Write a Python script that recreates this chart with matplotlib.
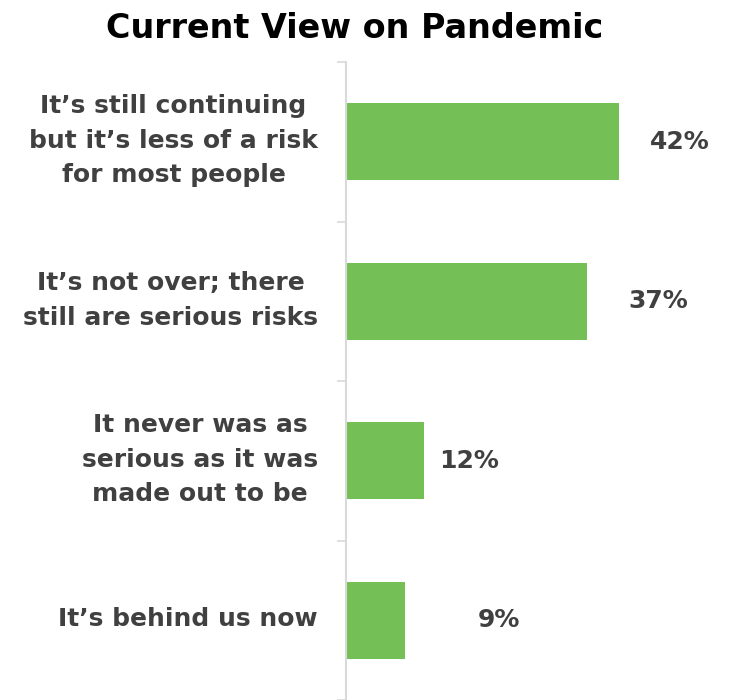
import matplotlib
matplotlib.use("Agg")
import matplotlib.pyplot as plt
import numpy as np

plt.rcParams['font.family'] = ['DejaVu Sans']

# survey responses, top to bottom
categories = [
    "It\u2019s still continuing\nbut it\u2019s less of a risk\nfor most people",
    "It\u2019s not over; there\nstill are serious risks",
    "It never was as\nserious as it was\nmade out to be",
    "It\u2019s behind us now",
]
shares = [42, 37, 12, 9]
value_labels = ["42%", "37%", "12%", "9%"]
# horizontal gap between bar end and its label, in percentage points
label_gap = [9.4, 11.1, 6.9, 14.6]

BAR_COLOR = "#74BF56"
TEXT_COLOR = "#404040"
AXIS_COLOR = "#D9D9D9"

W, H = 729, 700
fig = plt.figure(figsize=(W / 100, H / 100), dpi=100)
ax = fig.add_axes([346 / W, 0, (W - 346) / W, (H - 62) / H])

y = np.arange(len(categories))
ax.barh(y, shares, height=0.48, color=BAR_COLOR, zorder=2)
ax.set_ylim(len(categories) - 0.5, -0.5)
ax.set_xlim(0, (W - 346) / 6.5)

for yi, v, lab, gap in zip(y, shares, value_labels, label_gap):
    ax.text(v + gap, yi, lab, ha='center', va='center', fontsize=18,
            fontweight='bold', color=TEXT_COLOR)

for yi, cat in zip(y, categories):
    ax.annotate(cat, xy=(0, yi), xycoords=('axes fraction', 'data'),
                xytext=(-28, 1), textcoords='offset pixels',
                ha='right', va='center', multialignment='center',
                fontsize=18, fontweight='bold', color=TEXT_COLOR,
                linespacing=1.56)

# category separators as small ticks on the left of the axis
ax.set_yticks(np.arange(len(categories) + 1) - 0.5)
ax.set_yticklabels([])
ax.tick_params(axis='y', length=6.5, width=1.2, color=AXIS_COLOR, direction='out')
ax.set_xticks([])

for side in ['top', 'right', 'bottom']:
    ax.spines[side].set_visible(False)
ax.spines['left'].set_color(AXIS_COLOR)
ax.spines['left'].set_linewidth(1.5)

fig.text(355 / W, 1 - 29 / H, "Current View on Pandemic", ha='center', va='center',
         fontsize=24, fontweight='bold', color='black')

fig.savefig("out.png", dpi=100)
